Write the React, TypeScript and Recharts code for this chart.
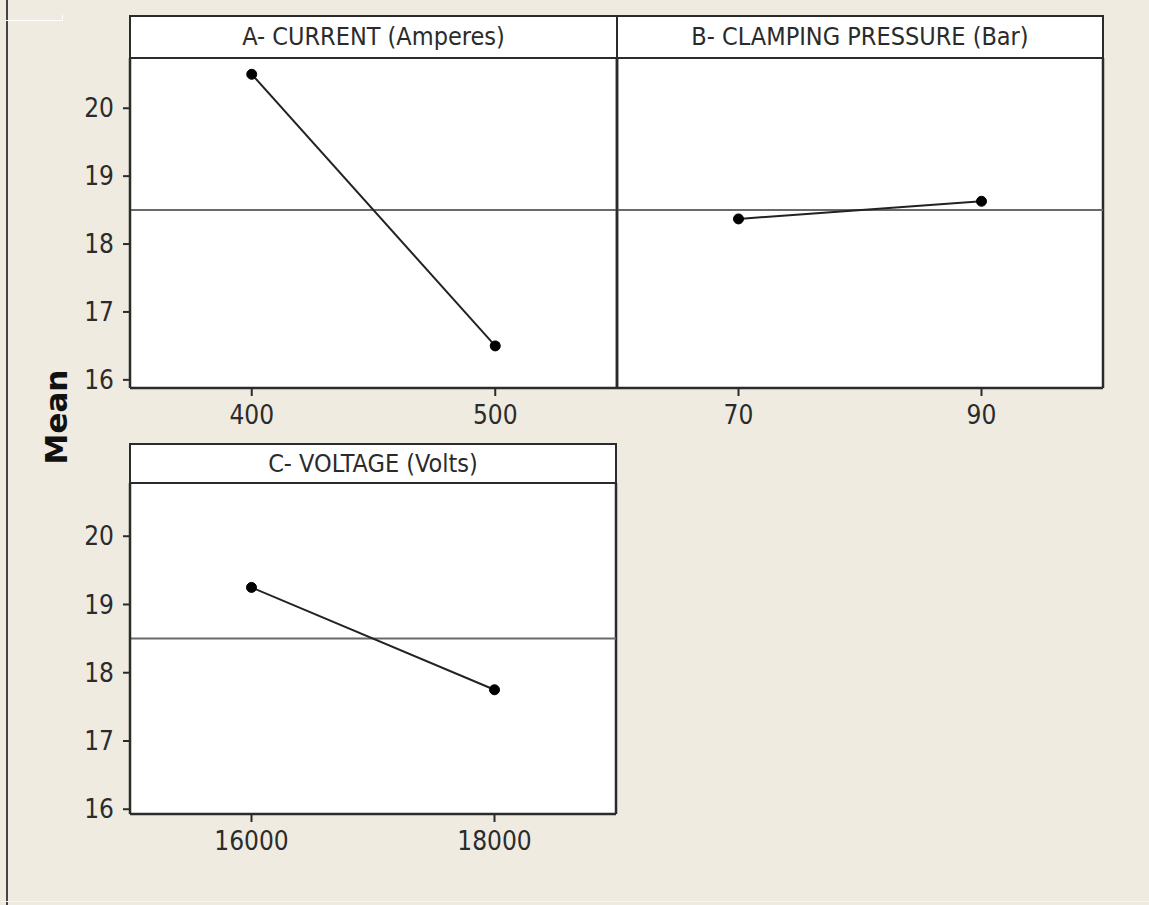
import React from 'react';
import { LineChart, Line, XAxis, YAxis, ReferenceLine } from 'recharts';

// Main effects for mean - factor levels and their means
const currentLevels = [400, 500];
const currentMeans = [20.5, 16.5];
const pressureLevels = [70, 90];
const pressureMeans = [18.37, 18.63];
const voltageLevels = [16000, 18000];
const voltageMeans = [19.25, 17.75];
const grandMean = 18.5;
const meanTicks = [16, 17, 18, 19, 20];

const BG = '#efebe1';
const INK = '#2b2b2b';
const FONT = "'DejaVu Sans Condensed', 'Liberation Sans Narrow', sans-serif";

interface PanelProps {
  title: string;
  levels: number[];
  means: number[];
  xDomain: [number, number];
  yDomain: [number, number];
  plotLeft: number;
  plotTop: number;
  plotW: number;
  plotH: number;
  headerTop: number;
  showYTicks: boolean;
}

const Y_W = 70;
const X_H = 60;

const Panel: React.FC<PanelProps> = ({
  title,
  levels,
  means,
  xDomain,
  yDomain,
  plotLeft,
  plotTop,
  plotW,
  plotH,
  headerTop,
  showYTicks,
}) => {
  const data = levels.map((level, i) => ({ level, mean: means[i] }));
  const tickStyle = { fill: INK, fontSize: 26, fontFamily: FONT };

  return (
    <>
      <div
        style={{
          position: 'absolute',
          left: plotLeft - 1,
          top: headerTop,
          width: plotW + 2,
          height: plotTop - headerTop + 1,
          boxSizing: 'border-box',
          border: `2px solid ${INK}`,
          background: '#fff',
          fontFamily: FONT,
          fontSize: 25,
          color: INK,
          textAlign: 'center',
          lineHeight: `${plotTop - headerTop - 3}px`,
          whiteSpace: 'nowrap',
        }}
      >
        {title}
      </div>
      <div style={{ position: 'absolute', left: plotLeft - Y_W, top: plotTop }}>
        <LineChart
          width={plotW + Y_W + 2}
          height={plotH + X_H}
          data={data}
          margin={{ top: 0, right: 2, bottom: 0, left: 0 }}
          style={{ background: 'transparent' }}
        >
          <XAxis
            dataKey="level"
            type="number"
            domain={xDomain}
            ticks={levels}
            height={X_H}
            tickSize={8}
            tickMargin={10}
            tick={tickStyle}
            axisLine={{ stroke: INK, strokeWidth: 2.5 }}
            tickLine={{ stroke: INK, strokeWidth: 2 }}
            allowDataOverflow
          />
          <YAxis
            type="number"
            domain={yDomain}
            ticks={meanTicks}
            width={Y_W}
            tickSize={showYTicks ? 7 : 0}
            tickMargin={9}
            tick={showYTicks ? tickStyle : false}
            axisLine={{ stroke: INK, strokeWidth: 2.5 }}
            tickLine={{ stroke: INK, strokeWidth: 2 }}
            allowDataOverflow
          />
          <ReferenceLine x={xDomain[1]} stroke={INK} strokeWidth={2.5} />
          <ReferenceLine y={yDomain[1]} stroke={INK} strokeWidth={2} />
          <ReferenceLine y={grandMean} stroke="#6a6a6a" strokeWidth={2} />
          <Line
            dataKey="mean"
            stroke="#222"
            strokeWidth={2}
            dot={{ r: 5, fill: '#000', stroke: '#000', strokeWidth: 1 }}
            isAnimationActive={false}
          />
        </LineChart>
      </div>
    </>
  );
};

const App: React.FC = () => {
  return (
    <div
      style={{
        position: 'absolute',
        left: 0,
        top: 0,
        width: 1149,
        height: 905,
        background: BG,
        overflow: 'hidden',
      }}
    >
      {/* plot area backgrounds */}
      <div style={{ position: 'absolute', left: 130, top: 58, width: 973, height: 330, background: '#fff' }} />
      <div style={{ position: 'absolute', left: 130, top: 483, width: 486, height: 331, background: '#fff' }} />

      <div style={{ position: 'absolute', left: 6, top: 0, width: 2, height: 905, background: '#444' }} />
      <div
        style={{
          position: 'absolute',
          left: 5,
          top: 15,
          width: 57,
          height: 5,
          borderBottom: '1px solid #fff',
          borderRight: '1px solid #fff',
        }}
      />
      <div style={{ position: 'absolute', left: 0, top: 901, width: 1149, height: 1, background: '#f8f6f0' }} />

      <Panel
        title="A- CURRENT (Amperes)"
        levels={currentLevels}
        means={currentMeans}
        xDomain={[350, 550]}
        yDomain={[15.88, 20.74]}
        plotLeft={130}
        plotTop={58}
        plotW={487}
        plotH={330}
        headerTop={15}
        showYTicks
      />
      <Panel
        title="B- CLAMPING PRESSURE (Bar)"
        levels={pressureLevels}
        means={pressureMeans}
        xDomain={[60, 100]}
        yDomain={[15.88, 20.74]}
        plotLeft={617}
        plotTop={58}
        plotW={486}
        plotH={330}
        headerTop={15}
        showYTicks={false}
      />
      <Panel
        title="C- VOLTAGE (Volts)"
        levels={voltageLevels}
        means={voltageMeans}
        xDomain={[15000, 19000]}
        yDomain={[15.93, 20.78]}
        plotLeft={130}
        plotTop={483}
        plotW={486}
        plotH={331}
        headerTop={443}
        showYTicks
      />

      <div
        style={{
          position: 'absolute',
          left: 56,
          top: 417,
          transform: 'translate(-50%, -50%) rotate(-90deg)',
          fontFamily: "'DejaVu Sans', sans-serif",
          fontWeight: 'bold',
          fontSize: 31,
          color: '#111',
          whiteSpace: 'nowrap',
        }}
      >
        Mean
      </div>
    </div>
  );
};

export default App;
